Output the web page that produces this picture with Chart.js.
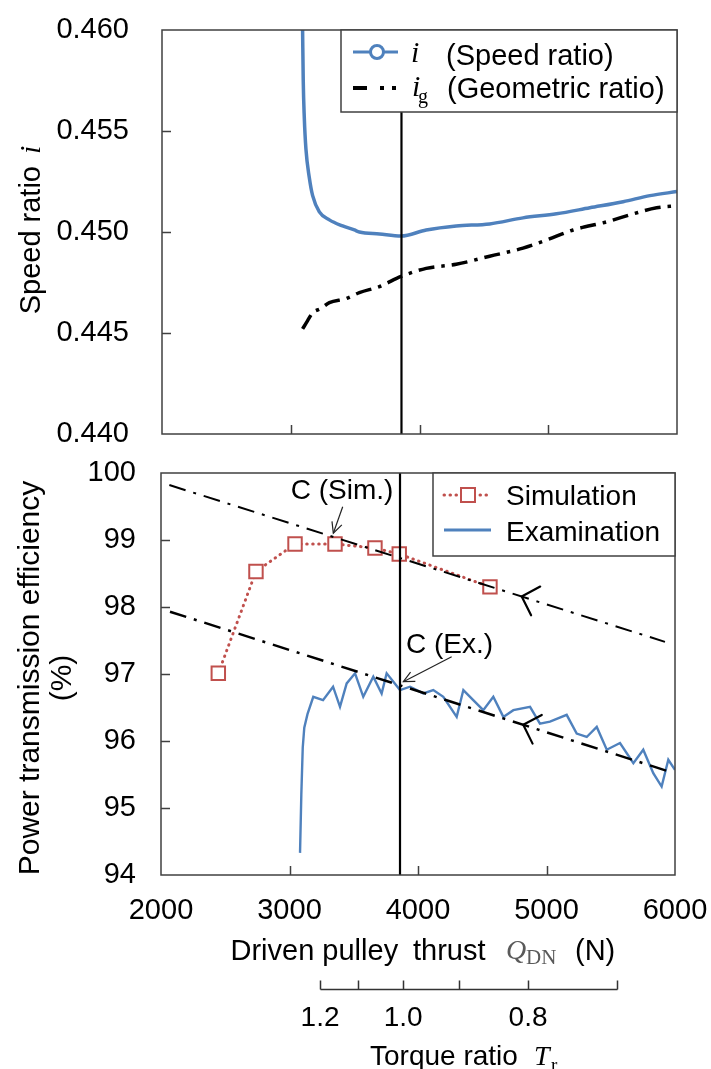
<!DOCTYPE html>
<html><head><meta charset="utf-8">
<script src="https://cdn.jsdelivr.net/npm/chart.js@4.4.1/dist/chart.umd.min.js"></script>
<style>
html,body{margin:0;padding:0;background:#fff;}
#wrap{position:relative;width:711px;height:1069px;overflow:hidden;background:#fff;}
#cA{position:absolute;left:0;top:0;}
#cB{position:absolute;left:0;top:440px;}
</style></head><body>
<div id="wrap">
<canvas id="cA" width="711" height="460"></canvas>
<canvas id="cB" width="711" height="629"></canvas>
</div>
<script>
// ---------------- data ----------------
const X_MIN = 2000, X_MAX = 6000;
const X_TICKS = [2000, 3000, 4000, 5000, 6000];
const SPEED_TICKS = [0.440, 0.445, 0.450, 0.455, 0.460];
const EFF_TICKS = [94, 95, 96, 97, 98, 99, 100];

const SPEED_Q = [3090, 3092, 3097, 3105, 3118, 3144, 3170, 3222, 3300, 3403, 3494, 3533, 3689, 3857, 4052, 4285, 4545, 4804, 5064, 5323, 5582, 5790, 6000];
const SPEED_I = [0.4610, 0.4600, 0.4575, 0.4557, 0.4541, 0.4527, 0.4518, 0.4510, 0.4506, 0.4503, 0.4501, 0.4500, 0.4499, 0.4498, 0.4501, 0.4503, 0.4504, 0.4507, 0.4509, 0.4512, 0.4515, 0.4518, 0.4520];

const GEO_Q = [3092, 3130, 3170, 3230, 3300, 3429, 3533, 3689, 3857, 4052, 4285, 4545, 4804, 4986, 5193, 5453, 5660, 5842, 6000];
const GEO_I = [0.4452, 0.4456, 0.4460, 0.4462, 0.4465, 0.4467, 0.4470, 0.4473, 0.4478, 0.4482, 0.4484, 0.4488, 0.4492, 0.4496, 0.4501, 0.4505, 0.4509, 0.4512, 0.4513];

const SIM_Q = [2446, 2739, 3043, 3354, 3665, 3854, 4560];
const SIM_EFF = [97.01, 98.53, 98.94, 98.94, 98.88, 98.79, 98.30];

const EXAM_Q = [3082, 3092, 3103, 3115, 3140, 3185, 3261, 3339, 3393, 3445, 3510, 3574, 3652, 3717, 3756, 3860, 3938, 4041, 4119, 4197, 4301, 4353, 4430, 4508, 4586, 4664, 4742, 4872, 4949, 5027, 5157, 5235, 5313, 5391, 5469, 5572, 5676, 5753, 5831, 5896, 5948, 6000];
const EXAM_EFF = [94.33, 95.20, 95.90, 96.20, 96.40, 96.66, 96.61, 96.81, 96.51, 96.86, 97.01, 96.66, 96.96, 96.71, 97.01, 96.76, 96.81, 96.71, 96.76, 96.66, 96.36, 96.76, 96.61, 96.46, 96.66, 96.36, 96.46, 96.51, 96.26, 96.29, 96.39, 96.11, 96.06, 96.21, 95.87, 95.97, 95.67, 95.87, 95.52, 95.32, 95.72, 95.57];

const TREND_SIM_Q = [2065, 5922];
const TREND_SIM_EFF = [99.82, 97.48];
const TREND_EX_Q = [2070, 5961];
const TREND_EX_EFF = [97.93, 95.54];
const TREND_ARROW_Q = [4807, 4819];

const C_POINT_Q = 3860;

const TR_TICKS = [1.2, 1.1, 1.0, 0.9, 0.8, 0.7];
const TR_LABELED = [1.2, 1.0, 0.8];
const TR_QREF = 3885;   // Q at which torque ratio Tr = 1 on the secondary scale

// ---------------- styles ----------------
const SANS = "'Liberation Sans', Arial, Helvetica, sans-serif";
const SERIF = "'Liberation Serif', 'Times New Roman', serif";
const BLUE = '#4F81BD';
const RED = '#C0504D';
const FRAME = '#404040';
Chart.defaults.font.family = SANS;
Chart.defaults.color = '#000';

const pts = (xs, ys) => xs.map((x, i) => ({x: x, y: ys[i]}));

function fixAxis(w, h) {
  return function (s) {
    if (w !== null) s.width = w;
    if (h !== null) s.height = h;
    s.paddingTop = 0; s.paddingBottom = 0; s.paddingLeft = 0; s.paddingRight = 0;
  };
}

function drawParts(ctx, parts, x, y) {
  let cx = x;
  for (const p of parts) {
    ctx.font = p.font;
    ctx.fillStyle = p.color || '#000';
    ctx.textBaseline = 'alphabetic';
    ctx.textAlign = 'left';
    ctx.fillText(p.t, cx + (p.dx || 0), y + (p.dy || 0));
    cx += ctx.measureText(p.t).width + (p.dx || 0) + (p.gap || 0);
  }
  return cx;
}
function partsWidth(ctx, parts) {
  let w = 0;
  for (const p of parts) { ctx.font = p.font; w += ctx.measureText(p.t).width + (p.dx || 0) + (p.gap || 0); }
  return w;
}

function frameAndTicks(chart, xTicks, yTicks, xs, ys) {
  const ctx = chart.ctx, ca = chart.chartArea;
  ctx.save();
  ctx.strokeStyle = FRAME;
  ctx.lineWidth = 1.5;
  ctx.strokeRect(ca.left, ca.top, ca.right - ca.left, ca.bottom - ca.top);
  ctx.beginPath();
  xTicks.slice(1, -1).forEach(v => {
    const px = Math.round(xs.getPixelForValue(v)) + 0.5;
    ctx.moveTo(px, ca.bottom); ctx.lineTo(px, ca.bottom - 9);
  });
  yTicks.slice(1, -1).forEach(v => {
    const py = Math.round(ys.getPixelForValue(v)) + 0.5;
    ctx.moveTo(ca.left, py); ctx.lineTo(ca.left + 9, py);
  });
  ctx.stroke();
  ctx.restore();
}

function openArrow(ctx, tipX, tipY, fromX, fromY, len, ang) {
  const a = Math.atan2(fromY - tipY, fromX - tipX);
  ctx.beginPath();
  ctx.moveTo(tipX + len * Math.cos(a + ang), tipY + len * Math.sin(a + ang));
  ctx.lineTo(tipX, tipY);
  ctx.lineTo(tipX + len * Math.cos(a - ang), tipY + len * Math.sin(a - ang));
  ctx.stroke();
}

// ---------------- top chart ----------------
const decoA = {
  id: 'decoA',
  afterDatasetsDraw(chart) {
    const ctx = chart.ctx, ca = chart.chartArea;
    frameAndTicks(chart, X_TICKS, SPEED_TICKS, chart.scales.x, chart.scales.y);
    // y title
    ctx.save();
    const tparts = [
      {t: 'Speed ratio', font: '29px ' + SANS, gap: 12},
      {t: 'i', font: 'italic 30px ' + SERIF}
    ];
    const W = partsWidth(ctx, tparts);
    ctx.translate(40, (ca.top + ca.bottom) / 2 - 2);
    ctx.rotate(-Math.PI / 2);
    drawParts(ctx, tparts, -W / 2, 0);
    ctx.restore();
    // legend
    ctx.save();
    const lx = ca.right - 336, ly = ca.top;
    ctx.fillStyle = '#fff';
    ctx.fillRect(lx, ly, 336, 82);
    ctx.strokeStyle = FRAME; ctx.lineWidth = 1.5;
    ctx.strokeRect(lx, ly, 336, 82);
    // row 1
    const r1 = ly + 22;
    ctx.strokeStyle = BLUE; ctx.lineWidth = 3;
    ctx.beginPath(); ctx.moveTo(lx + 12, r1); ctx.lineTo(lx + 57, r1); ctx.stroke();
    ctx.beginPath(); ctx.arc(lx + 36, r1, 6.5, 0, Math.PI * 2);
    ctx.fillStyle = '#fff'; ctx.fill(); ctx.stroke();
    drawParts(ctx, [{t: 'i', font: 'italic 30px ' + SERIF}], lx + 70, ly + 32);
    drawParts(ctx, [{t: '(Speed ratio)', font: '29px ' + SANS}], lx + 105, ly + 35);
    // row 2
    const r2 = ly + 58;
    ctx.fillStyle = '#000';
    ctx.fillRect(lx + 12, r2 - 2, 14, 4);
    ctx.fillRect(lx + 39, r2 - 2, 4, 4);
    ctx.fillRect(lx + 51, r2 - 2, 4, 4);
    drawParts(ctx, [{t: 'i', font: 'italic 30px ' + SERIF}], lx + 71, ly + 66);
    drawParts(ctx, [{t: 'g', font: '20px ' + SERIF}], lx + 77, ly + 73);
    drawParts(ctx, [{t: '(Geometric ratio)', font: '29px ' + SANS}], lx + 106, ly + 68);
    ctx.restore();
  }
};

new Chart(document.getElementById('cA'), {
  type: 'line',
  data: {
    datasets: [
      {label: 'C', data: [{x: C_POINT_Q, y: 0.44}, {x: C_POINT_Q, y: 0.46}], borderColor: '#000', borderWidth: 2.2, pointRadius: 0},
      {label: 'ig (Geometric ratio)', data: pts(GEO_Q, GEO_I), borderColor: '#000', borderWidth: 3.5, borderDash: [16, 7, 3.5, 7], pointRadius: 0, cubicInterpolationMode: 'monotone'},
      {label: 'i (Speed ratio)', data: pts(SPEED_Q, SPEED_I), borderColor: BLUE, borderWidth: 3.5, pointRadius: 0, cubicInterpolationMode: 'monotone'}
    ]
  },
  options: {
    responsive: false, animation: false, devicePixelRatio: 1,
    layout: {padding: {left: 0, right: 34, top: 30, bottom: 26}},
    plugins: {legend: {display: false}, tooltip: {enabled: false}},
    scales: {
      x: {type: 'linear', min: X_MIN, max: X_MAX, display: false, afterFit: fixAxis(null, null)},
      y: {
        type: 'linear', min: 0.44, max: 0.46,
        grid: {display: false, drawTicks: false}, border: {display: false},
        afterBuildTicks: s => { s.ticks = SPEED_TICKS.map(v => ({value: v})); },
        ticks: {padding: 33, color: '#000', font: {size: 29}, callback: v => Number(v).toFixed(3)},
        afterFit: fixAxis(162, null)
      }
    }
  },
  plugins: [decoA]
});

// ---------------- bottom chart ----------------
const ANNOT = [
  {text: 'C (Sim.)', tq: 3009, tv: 99.607, fq: 3414, fv: 99.497, aq: 3341, av: 99.10},
  {text: 'C (Ex.)', tq: 3907, tv: 97.318, fq: 4262, fv: 97.258, aq: 3886, av: 96.885}
];

const decoB = {
  id: 'decoB',
  afterDatasetsDraw(chart) {
    const ctx = chart.ctx, ca = chart.chartArea;
    const xs = chart.scales.x, ys = chart.scales.y, xt = chart.scales.xT;
    frameAndTicks(chart, X_TICKS, EFF_TICKS, xs, ys);

    // arrows on trend lines
    ctx.save();
    ctx.strokeStyle = '#000'; ctx.lineWidth = 2.2; ctx.lineCap = 'round';
    [[TREND_SIM_Q, TREND_SIM_EFF, TREND_ARROW_Q[0]], [TREND_EX_Q, TREND_EX_EFF, TREND_ARROW_Q[1]]].forEach(([q, e, aq]) => {
      const f = (aq - q[0]) / (q[1] - q[0]);
      const av = e[0] + f * (e[1] - e[0]);
      const tx = xs.getPixelForValue(aq), ty = ys.getPixelForValue(av);
      const fx = xs.getPixelForValue(q[1]), fy = ys.getPixelForValue(e[1]);
      openArrow(ctx, tx, ty, fx, fy, 21, 0.8);
    });
    ctx.restore();

    // annotations
    ctx.save();
    ANNOT.forEach(a => {
      drawParts(ctx, [{t: a.text, font: '28px ' + SANS}], xs.getPixelForValue(a.tq), ys.getPixelForValue(a.tv));
      const fx = xs.getPixelForValue(a.fq), fy = ys.getPixelForValue(a.fv);
      const tx = xs.getPixelForValue(a.aq), ty = ys.getPixelForValue(a.av);
      ctx.strokeStyle = '#222'; ctx.lineWidth = 1.2;
      ctx.beginPath(); ctx.moveTo(fx, fy); ctx.lineTo(tx, ty); ctx.stroke();
      openArrow(ctx, tx, ty, fx, fy, 12, 0.45);
    });
    ctx.restore();

    // y title (two lines)
    ctx.save();
    const cy = (ca.top + ca.bottom) / 2 + 4;
    ctx.translate(39, cy); ctx.rotate(-Math.PI / 2);
    ctx.font = '30px ' + SANS; ctx.fillStyle = '#000'; ctx.textAlign = 'center'; ctx.textBaseline = 'alphabetic';
    ctx.fillText('Power transmission efficiency', 0, 0);
    ctx.restore();
    ctx.save();
    ctx.translate(71, cy); ctx.rotate(-Math.PI / 2);
    ctx.font = '30px ' + SANS; ctx.fillStyle = '#000'; ctx.textAlign = 'center'; ctx.textBaseline = 'alphabetic';
    ctx.fillText('(%)', 0, 0);
    ctx.restore();

    // x title
    ctx.save();
    const xb = ca.bottom + 85;
    drawParts(ctx, [{t: 'Driven pulley', font: '29px ' + SANS}], 230.5, xb);
    drawParts(ctx, [{t: 'thrust', font: '29px ' + SANS}], 413, xb);
    drawParts(ctx, [{t: 'Q', font: 'italic 28px ' + SERIF, color: '#5a5a5a'}], 506, xb - 1);
    drawParts(ctx, [{t: 'DN', font: '21px ' + SERIF, color: '#5a5a5a'}], 526, xb + 4);
    drawParts(ctx, [{t: '(N)', font: '29px ' + SANS}], 575, xb);
    ctx.restore();

    // torque ratio axis (secondary scale)
    ctx.save();
    const ay = Math.round(xt.top) + 0.5;
    const tpx = TR_TICKS.map(t => Math.round(xt.getPixelForValue(TR_QREF / t)) + 0.5);
    ctx.strokeStyle = '#333'; ctx.lineWidth = 1.5;
    ctx.beginPath();
    ctx.moveTo(Math.min(...tpx), ay); ctx.lineTo(Math.max(...tpx), ay);
    tpx.forEach(px => { ctx.moveTo(px, ay); ctx.lineTo(px, ay - 9); });
    ctx.stroke();
    const tb = xt.top + 76;
    drawParts(ctx, [{t: 'Torque ratio', font: '28px ' + SANS}], 370, tb);
    drawParts(ctx, [{t: 'T', font: 'italic 28px ' + SERIF}], 534, tb);
    drawParts(ctx, [{t: 'r', font: '19px ' + SERIF}], 551, tb + 6);
    ctx.restore();

    // legend
    ctx.save();
    const lw = 242, lh = 83;
    const lx = ca.right - lw, ly = ca.top;
    ctx.fillStyle = '#fff'; ctx.fillRect(lx, ly, lw, lh);
    ctx.strokeStyle = FRAME; ctx.lineWidth = 1.5; ctx.strokeRect(lx, ly, lw, lh);
    const r1 = ly + 22, r2 = ly + 57;
    ctx.strokeStyle = RED; ctx.lineWidth = 3; ctx.lineCap = 'round'; ctx.setLineDash([0.5, 5.5]);
    ctx.beginPath(); ctx.moveTo(lx + 11, r1); ctx.lineTo(lx + 58, r1); ctx.stroke();
    ctx.setLineDash([]); ctx.lineCap = 'butt'; ctx.lineWidth = 2;
    ctx.fillStyle = '#fff';
    ctx.fillRect(lx + 28, r1 - 7, 14, 14); ctx.strokeRect(lx + 28, r1 - 7, 14, 14);
    ctx.strokeStyle = BLUE; ctx.lineWidth = 3;
    ctx.beginPath(); ctx.moveTo(lx + 11, r2); ctx.lineTo(lx + 58, r2); ctx.stroke();
    drawParts(ctx, [{t: 'Simulation', font: '28px ' + SANS}], lx + 73, r1 + 10);
    drawParts(ctx, [{t: 'Examination', font: '28px ' + SANS}], lx + 73, r2 + 11);
    ctx.restore();
  }
};

new Chart(document.getElementById('cB'), {
  type: 'line',
  data: {
    datasets: [
      {label: 'trend sim', data: pts(TREND_SIM_Q, TREND_SIM_EFF), borderColor: '#000', borderWidth: 2, borderDash: [17, 8, 3, 8], pointRadius: 0},
      {label: 'trend ex', data: pts(TREND_EX_Q, TREND_EX_EFF), borderColor: '#000', borderWidth: 2.5, borderDash: [17, 8, 3, 8], pointRadius: 0},
      {label: 'C', data: [{x: C_POINT_Q, y: 94}, {x: C_POINT_Q, y: 100}], borderColor: '#000', borderWidth: 2.2, pointRadius: 0},
      {label: 'Simulation', data: pts(SIM_Q, SIM_EFF), borderColor: RED, borderWidth: 3, borderDash: [0.5, 5.5], borderCapStyle: 'round',
        pointStyle: 'rect', pointRadius: 9.5, pointBorderWidth: 2, pointBorderColor: RED, pointBackgroundColor: '#fff'},
      {label: 'Examination', data: pts(EXAM_Q, EXAM_EFF), borderColor: BLUE, borderWidth: 2.4, pointRadius: 0}
    ]
  },
  options: {
    responsive: false, animation: false, devicePixelRatio: 1,
    layout: {padding: {left: 0, right: 36, top: 33, bottom: 0}},
    plugins: {legend: {display: false}, tooltip: {enabled: false}},
    scales: {
      x: {
        type: 'linear', min: X_MIN, max: X_MAX, position: 'bottom', weight: 0,
        grid: {display: false, drawTicks: false}, border: {display: false},
        afterBuildTicks: s => { s.ticks = X_TICKS.map(v => ({value: v})); },
        ticks: {padding: 19, color: '#000', font: {size: 29}, autoSkip: false, maxRotation: 0, callback: v => String(v)},
        afterFit: fixAxis(null, 114)
      },
      xT: {
        type: 'linear', min: X_MIN, max: X_MAX, position: 'bottom', weight: 1,
        grid: {display: false, drawTicks: false}, border: {display: false},
        afterBuildTicks: s => { s.ticks = TR_TICKS.map(t => ({value: TR_QREF / t})); },
        ticks: {padding: 12, color: '#000', font: {size: 28}, autoSkip: false, maxRotation: 0,
          callback: v => { const t = TR_QREF / v; const m = TR_LABELED.find(l => Math.abs(l - t) < 1e-6); return m !== undefined ? m.toFixed(1) : ''; }},
        afterFit: fixAxis(null, 80)
      },
      y: {
        type: 'linear', min: 94, max: 100,
        grid: {display: false, drawTicks: false}, border: {display: false},
        afterBuildTicks: s => { s.ticks = EFF_TICKS.map(v => ({value: v})); },
        ticks: {padding: 25, color: '#000', font: {size: 29}, callback: v => String(v)},
        afterFit: fixAxis(161, null)
      }
    }
  },
  plugins: [decoB]
});
</script>
</body></html>
